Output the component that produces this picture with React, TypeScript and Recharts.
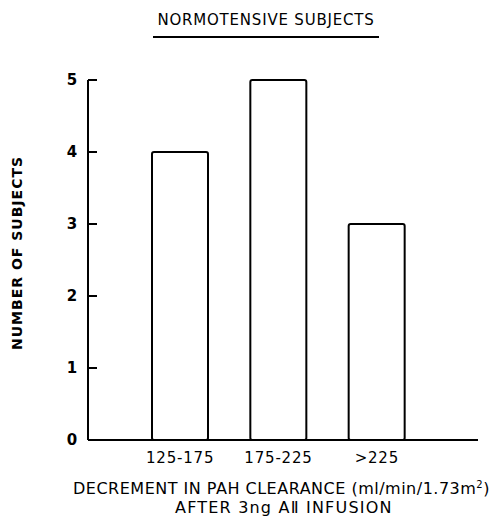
import { Bar, BarChart, XAxis, YAxis } from "recharts";

const categories = ["125-175", "175-225", ">225"];
const subjects = [4, 5, 3];
const yTicks = [0, 1, 2, 3, 4, 5];

const data = categories.map((c, i) => ({ range: c, n: subjects[i] }));

const font = "'DejaVu Sans', 'Liberation Sans', sans-serif";

function YTick(props: any) {
  const { x, y, payload } = props;
  return (
    <g>
      {payload.value !== 0 && <line x1={x} y1={y} x2={x + 9} y2={y} stroke="#000" strokeWidth={2} />}
      <text x={x - 16} y={y} dy={5} textAnchor="middle" fontSize={15} fontWeight="bold" fontFamily={font} fill="#000">
        {payload.value}
      </text>
    </g>
  );
}

export default function App() {
  return (
    <div style={{ position: "absolute", left: 0, top: 0, width: 493, height: 519, background: "#fff", fontFamily: font }}>
      <div style={{ position: "absolute", left: 153, top: 10, width: 226, textAlign: "center", fontSize: 15, letterSpacing: 0.8, color: "#000", lineHeight: "20px", borderBottom: "2px solid #000", paddingBottom: 6, whiteSpace: "nowrap" }}>
        NORMOTENSIVE SUBJECTS
      </div>
      <BarChart width={493} height={519} data={data} margin={{ top: 80, right: 15, bottom: 49, left: 0 }} barSize={56}>
        <XAxis
          dataKey="range"
          height={30}
          axisLine={{ stroke: "#000", strokeWidth: 2 }}
          tickLine={false}
          padding={{ left: 43, right: 52 }}
          tick={{ fill: "#000", fontSize: 15, fontFamily: font, letterSpacing: 0.8 }}
          tickMargin={6}
        />
        <YAxis
          width={88}
          domain={[0, 5]}
          ticks={yTicks}
          axisLine={{ stroke: "#000", strokeWidth: 2 }}
          tickLine={false}
          tickSize={0}
          tickMargin={0}
          tick={<YTick />}
          label={{ value: "NUMBER OF SUBJECTS", angle: -90, position: "insideLeft", dx: 12, dy: 90, style: { fontSize: 14, fontWeight: "bold", fill: "#000", fontFamily: font, letterSpacing: 1 } }}
        />
        <Bar dataKey="n" fill="#fff" stroke="#000" strokeWidth={2} radius={2} isAnimationActive={false} />
      </BarChart>
      <div style={{ position: "absolute", left: 73, top: 480, fontSize: 16, color: "#000", letterSpacing: 0.5, lineHeight: "18px", whiteSpace: "nowrap" }}>
        DECREMENT IN PAH CLEARANCE (ml/min/1.73m<sup style={{ fontSize: 10, lineHeight: 0 }}>2</sup>)
      </div>
      <div style={{ position: "absolute", left: 175, top: 499, fontSize: 16, color: "#000", letterSpacing: 1.2, lineHeight: "18px", whiteSpace: "nowrap" }}>
        AFTER 3ng A&#8545; INFUSION
      </div>
    </div>
  );
}
